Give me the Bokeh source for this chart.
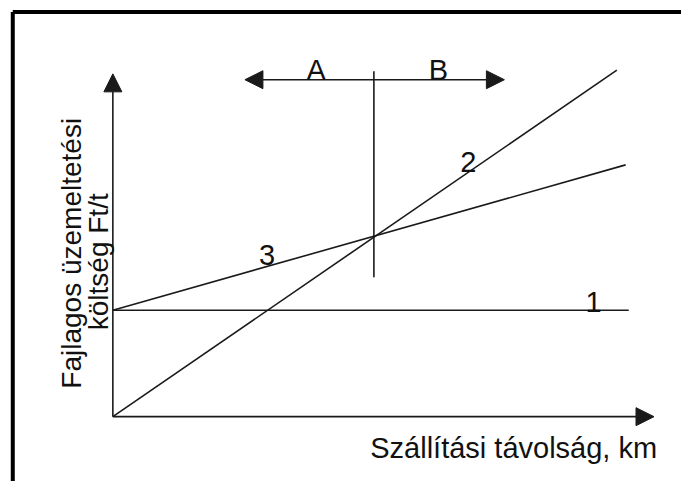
from bokeh.plotting import figure
from bokeh.models import Range1d, Arrow, NormalHead, Label
from bokeh.embed import file_html
from bokeh.resources import INLINE

# ---- data (conceptual units: distance, specific cost) ----
line1_x = [0.0, 10.0]
line1_y = [2.0, 2.0]
line2_x = [0.0, 9.77]
line2_y = [0.0, 6.51]
line3_x = [0.0, 9.94]
line3_y = [2.0, 4.73]
break_even_x = 5.06
divider_y = [2.62, 6.49]
range_arrow_x = [2.56, 7.59]
range_arrow_y = 6.33
axis_x_end = 10.49
axis_y_end = 6.44

curve_names = ["1", "2", "3"]
region_names = ["A", "B"]
x_title = "Szállítási távolság, km"
y_title_lines = ["Fajlagos üzemeltetési", "költség Ft/t"]

FONT = "Liberation Sans"
INK = "#1a1a1a"

p = figure(width=681, height=481, output_backend="svg", toolbar_location=None,
           x_range=Range1d(-2.178, 11.023), y_range=Range1d(-1.218, 7.818),
           min_border=0)
p.axis.visible = False
p.grid.visible = False
p.outline_line_color = None
p.background_fill_color = "white"
p.border_fill_color = "white"

# frame (left and top edges visible)
p.segment(x0=[-1.94, -1.94], y0=[-1.3, 7.6], x1=[-1.94, 11.1], y1=[7.6, 7.6],
          line_color="black", line_width=4)

# axes as arrows
p.add_layout(Arrow(end=NormalHead(size=18, fill_color=INK, line_color=INK),
                   x_start=0, y_start=0, x_end=0, y_end=axis_y_end,
                   line_color=INK, line_width=1.6))
p.add_layout(Arrow(end=NormalHead(size=18, fill_color=INK, line_color=INK),
                   x_start=0, y_start=0, x_end=axis_x_end, y_end=0,
                   line_color=INK, line_width=1.6))

# cost lines
for xs, ys in [(line1_x, line1_y), (line2_x, line2_y), (line3_x, line3_y)]:
    p.line(xs, ys, line_color=INK, line_width=1.6)

# break-even divider
p.line([break_even_x, break_even_x], divider_y, line_color=INK, line_width=1.6)

# A/B double arrow
p.add_layout(Arrow(start=NormalHead(size=18, fill_color=INK, line_color=INK),
                   end=NormalHead(size=18, fill_color=INK, line_color=INK),
                   x_start=range_arrow_x[0], y_start=range_arrow_y,
                   x_end=range_arrow_x[1], y_end=range_arrow_y,
                   line_color=INK, line_width=1.6))

def lab(txt, x, y, angle=0.0, size="29px", align="center"):
    p.add_layout(Label(x=x, y=y, text=txt, angle=angle, text_align=align,
                       text_baseline="alphabetic", text_font=FONT,
                       text_font_size=size, text_color="#111111"))

# region labels
lab(region_names[0], 3.94, 6.52)
lab(region_names[1], 6.31, 6.52)

# curve labels
lab(curve_names[0], 9.32, 2.15)
lab(curve_names[1], 6.89, 4.78)
lab(curve_names[2], 2.99, 3.04)

# axis titles
lab(x_title, 7.77, -0.58)
lab(y_title_lines[0], -0.795, 3.07, angle=1.5707963, size="28px")
lab(y_title_lines[1], -0.284, 2.91, angle=1.5707963, size="28px")

open("out.html", "w").write(file_html(p, INLINE))
